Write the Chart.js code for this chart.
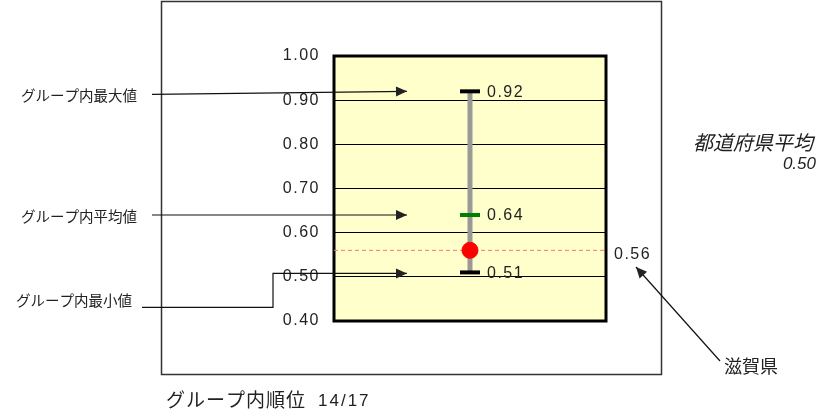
<!DOCTYPE html>
<html>
<head>
<meta charset="utf-8">
<script src="https://cdn.jsdelivr.net/npm/chart.js@4"></script>
<style>
  html, body { margin: 0; padding: 0; background: #fff; }
  #wrap { width: 827px; height: 417px; position: relative; }
</style>
</head>
<body>
<div id="wrap"><canvas id="chart" width="827" height="417"></canvas></div>
<script>
// values
const prefName = '滋賀県';
const groupMax = 0.92;
const groupAvg = 0.64;
const groupMin = 0.51;
const prefValue = 0.56;
const nationalAvg = 0.50;
const yTicks = [0.40, 0.50, 0.60, 0.70, 0.80, 0.90, 1.00];
const rank = 14;
const groupSize = 17;

const leftLabels = ['グループ内最大値', 'グループ内平均値', 'グループ内最小値'];

const NUM_FONT = '16px "Liberation Sans", Arial, sans-serif';
const NUM_SPACING = '1.5px';
const JP = '"Noto Sans CJK JP", sans-serif';
const CENTER = 1; // x position of the single category

function arrow(ctx, pts) {
    ctx.beginPath();
    ctx.moveTo(pts[0][0], pts[0][1]);
    for (let i = 1; i < pts.length; i++) ctx.lineTo(pts[i][0], pts[i][1]);
    ctx.stroke();
    const [x1, y1] = pts[pts.length - 2];
    const [x2, y2] = pts[pts.length - 1];
    const a = Math.atan2(y2 - y1, x2 - x1);
    const len = 11, half = 5;
    ctx.beginPath();
    ctx.moveTo(x2, y2);
    ctx.lineTo(x2 - len * Math.cos(a) + half * Math.sin(a), y2 - len * Math.sin(a) - half * Math.cos(a));
    ctx.lineTo(x2 - len * Math.cos(a) - half * Math.sin(a), y2 - len * Math.sin(a) + half * Math.cos(a));
    ctx.closePath();
    ctx.fill();
}

const framePlugin = {
    id: 'frame',
    beforeDraw(chart) {
        const { ctx, chartArea: a } = chart;
        ctx.save();
        ctx.strokeStyle = '#333';
        ctx.lineWidth = 1.5;
        ctx.strokeRect(161.5, 1.5, 500, 373);
        ctx.fillStyle = '#ffffcc';
        ctx.fillRect(a.left, a.top, a.right - a.left, a.bottom - a.top);
        ctx.restore();
        // spaced digits for tick labels
        ctx.letterSpacing = NUM_SPACING;
    },
    beforeDatasetsDraw(chart) {
        const { ctx, chartArea: a } = chart;
        ctx.save();
        ctx.strokeStyle = '#000';
        ctx.lineWidth = 3;
        ctx.strokeRect(a.left, a.top, a.right - a.left, a.bottom - a.top);
        ctx.restore();
    },
    afterDraw(chart) {
        const { ctx, chartArea: a } = chart;
        const x = chart.scales.x, y = chart.scales.y;
        const cx = x.getPixelForValue(CENTER);
        ctx.save();
        ctx.fillStyle = '#222';
        ctx.strokeStyle = '#111';
        ctx.lineWidth = 1.2;
        ctx.textBaseline = 'middle';

        // value labels next to the caps
        ctx.letterSpacing = NUM_SPACING;
        ctx.font = NUM_FONT;
        ctx.textAlign = 'left';
        [groupMax, groupAvg, groupMin].forEach(v => {
            ctx.fillText(v.toFixed(2), cx + 17, y.getPixelForValue(v) + 1);
        });
        ctx.fillText(prefValue.toFixed(2), a.right + 8, y.getPixelForValue(prefValue) + 4);

        // left labels with arrows
        const tipX = a.left + 73;
        ctx.letterSpacing = '0px';
        ctx.font = '14.5px ' + JP;
        const yMax = y.getPixelForValue(groupMax);
        const yAvg = y.getPixelForValue(groupAvg);
        const yMin = y.getPixelForValue(groupMin);
        ctx.fillText(leftLabels[0], 21, yMax + 4);
        arrow(ctx, [[152, yMax + 3], [tipX, yMax]]);
        ctx.fillText(leftLabels[1], 21, yAvg + 1);
        arrow(ctx, [[152, yAvg], [tipX, yAvg]]);
        ctx.fillText(leftLabels[2], 16, yMin + 28);
        arrow(ctx, [[142, yMin + 35], [273, yMin + 35], [273, yMin + 1], [tipX, yMin + 1]]);

        // national average note
        ctx.textAlign = 'right';
        ctx.font = 'italic 20px ' + JP;
        ctx.fillText('都道府県平均', 813, 142);
        ctx.font = 'italic 17px "Liberation Sans", Arial, sans-serif';
        ctx.fillText(nationalAvg.toFixed(2), 816, 164);

        // prefecture label with arrow to its value
        ctx.textAlign = 'left';
        ctx.font = '18px ' + JP;
        ctx.fillText(prefName, 724, 366);
        arrow(ctx, [[720, 361], [636, 267]]);

        // rank in group
        ctx.letterSpacing = '1px';
        ctx.font = '19px ' + JP;
        ctx.fillText('グループ内順位', 166, 400);
        ctx.letterSpacing = '2px';
        ctx.font = '17px "Liberation Sans", Arial, sans-serif';
        ctx.fillText(rank + '/' + groupSize, 318, 401);
        ctx.restore();
        ctx.letterSpacing = '0px';
    }
};

const ctx = document.getElementById('chart').getContext('2d');
new Chart(ctx, {
    type: 'scatter',
    data: {
        datasets: [
            {
                label: prefName,
                data: [{ x: CENTER, y: prefValue }],
                backgroundColor: '#ff0000',
                borderColor: '#ff0000',
                pointRadius: 8,
                order: 0
            },
            {
                label: 'avg',
                data: [{ x: CENTER, y: groupAvg }],
                pointStyle: 'line',
                pointRadius: 10,
                borderColor: '#008000',
                borderWidth: 4,
                order: 1
            },
            {
                label: 'max/min',
                data: [{ x: CENTER, y: groupMax }, { x: CENTER, y: groupMin }],
                pointStyle: 'line',
                pointRadius: 10,
                borderColor: '#000',
                borderWidth: 4,
                order: 2
            },
            {
                label: 'range',
                type: 'line',
                data: [{ x: CENTER, y: groupMin }, { x: CENTER, y: groupMax }],
                borderColor: '#999999',
                borderWidth: 5,
                pointRadius: 0,
                order: 3
            },
            {
                label: 'pref line',
                type: 'line',
                data: [{ x: 0, y: prefValue }, { x: 2, y: prefValue }],
                borderColor: '#ff7070',
                borderWidth: 1,
                borderDash: [4, 3],
                pointRadius: 0,
                order: 4
            }
        ]
    },
    options: {
        responsive: false,
        animation: false,
        layout: { padding: { left: 0, right: 221, top: 56, bottom: 96 } },
        plugins: { legend: { display: false }, tooltip: { enabled: false } },
        scales: {
            x: { type: 'linear', min: 0, max: 2, display: false },
            y: {
                min: 0.4,
                max: 1.0,
                afterFit: (scale) => { scale.width = 334; },
                afterBuildTicks: (scale) => { scale.ticks = yTicks.map(v => ({ value: v })); },
                border: { display: false },
                grid: { color: '#000', lineWidth: 1, drawTicks: false },
                ticks: {
                    padding: 14,
                    color: '#222',
                    font: { family: '"Liberation Sans", Arial, sans-serif', size: 16 },
                    callback: (v) => Number(v).toFixed(2)
                }
            }
        }
    },
    plugins: [framePlugin]
});
</script>
</body>
</html>
